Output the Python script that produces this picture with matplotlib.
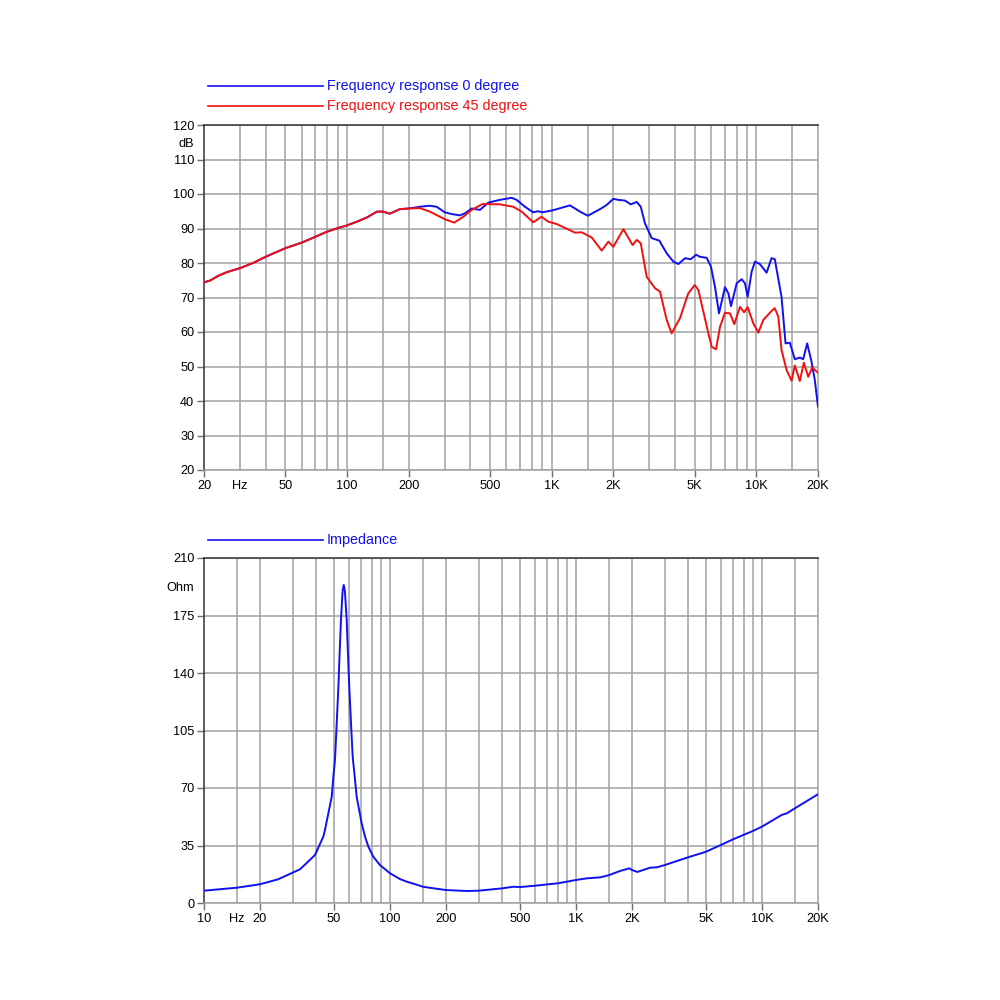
import matplotlib.pyplot as plt
import numpy as np

plt.rcParams['font.family'] = ['Liberation Sans', 'DejaVu Sans']

# Frequency response, 0 degree (Hz, dB)
freq_0deg = [20, 21.4, 23.5, 26, 30, 35, 40, 50, 60, 70, 80, 90, 100, 112, 125, 140, 150, 162, 181, 200,
             227, 254, 274, 300, 324, 356, 377, 406, 446, 490, 558, 637, 674, 740, 812, 859, 900, 1000,
             1228, 1374, 1500, 1721, 1854, 2000, 2113, 2280, 2432, 2603, 2723, 2855, 3080, 3353, 3646,
             3930, 4158, 4485, 4780, 5071, 5302, 5716, 6000, 6277, 6565, 7024, 7294, 7519, 8010, 8475,
             8796, 9064, 9483, 9842, 10400, 11220, 11860, 12300, 13270, 13880, 14570, 15410, 16300,
             16930, 17710, 18590, 19290, 20000]
spl_0deg = [74.4, 74.9, 76.3, 77.4, 78.5, 80.1, 81.8, 84.3, 85.9, 87.6, 89.1, 90.1, 90.9, 92.0, 93.2, 94.9,
            94.9, 94.3, 95.6, 95.8,
            96.3, 96.6, 96.3, 94.7, 94.2, 93.8, 94.4, 95.8, 95.4, 97.5, 98.3, 98.9, 98.3, 96.3, 94.7, 95.0,
            94.7, 95.2, 96.7, 94.9, 93.7, 95.6, 96.8, 98.6, 98.3, 98.1, 97.0, 97.7, 96.3, 91.5, 87.2, 86.5,
            82.8, 80.4, 79.7, 81.4, 81.1, 82.4, 81.8, 81.5, 78.9, 73.1, 65.4, 73.0, 71.2, 67.5, 74.1, 75.3,
            74.1, 70.2, 77.5, 80.4, 79.7, 77.2, 81.4, 81.1, 70.2, 56.7, 56.9, 52.1, 52.6, 52.1, 56.7, 51.4,
            46.1, 38.4]

# Frequency response, 45 degree (Hz, dB)
freq_45deg = [20, 21.4, 23.5, 26, 30, 35, 40, 50, 60, 70, 80, 90, 100, 112, 125, 140, 150, 162, 181, 200,
              227, 254, 300, 334, 370, 406, 460, 558, 649, 713, 812, 891, 961, 1057, 1300, 1400, 1568,
              1755, 1892, 2000, 2240, 2484, 2603, 2723, 2911, 3196, 3381, 3646, 3854, 4233, 4646, 5000,
              5203, 5508, 5825, 6050, 6350, 6640, 7024, 7432, 7800, 8318, 8700, 9064, 9660, 10220, 10810,
              11860, 12300, 12800, 13270, 14040, 14860, 15410, 16300, 17060, 17920, 18740, 20000]
spl_45deg = [74.4, 74.9, 76.3, 77.4, 78.5, 80.1, 81.8, 84.3, 85.9, 87.6, 89.1, 90.1, 90.9, 92.0, 93.2, 94.9,
             94.9, 94.3, 95.6, 95.8,
             95.9, 94.9, 92.7, 91.7, 93.4, 95.4, 97.1, 97.0, 96.3, 94.9, 91.8, 93.4, 92.0, 91.3, 88.8,
             88.9, 87.4, 83.6, 86.2, 84.7, 89.8, 85.2, 86.7, 85.7, 76.0, 72.7, 71.7, 63.5, 59.6, 64.0,
             71.2, 73.6, 72.2, 65.9, 59.6, 55.7, 55.0, 61.5, 65.6, 65.4, 62.3, 67.3, 65.7, 67.2, 62.5,
             59.8, 63.5, 66.1, 66.9, 64.4, 54.8, 49.0, 45.9, 50.3, 45.8, 51.1, 47.0, 49.7, 48.2]

# Impedance (Hz, Ohm)
freq_imp = [10, 15, 20, 25, 30, 32.8, 35, 39.5, 43.8, 44.7, 48.6, 49.6, 50.6, 51.7, 52.8, 53.6, 54.5,
            55.6, 56.4, 57.2, 58.5, 59.4, 60.4, 61.7, 63.0, 64.6, 66.2, 70.4, 73.4, 76.5, 81.3, 88.3,
            100, 113, 123, 145, 150, 175, 200, 258, 300, 400, 460, 500, 600, 800,
            1000, 1141, 1346, 1500, 1725, 1934, 2000, 2136, 2500, 2716, 3000, 4000, 5000, 6000, 7000,
            9000, 10000, 12760, 13600, 15000, 20000]
ohm_imp = [7.5, 9.3, 11.4, 14.4, 18.5, 20.5, 23.5, 29.2, 40.4, 44.4, 64.7, 76.9, 87.0, 109.4, 131.7,
           152.0, 172.3, 190.0, 193.6, 190.0, 172.3, 152.0, 131.7, 109.4, 89.0, 76.9, 64.7, 48.5, 40.4,
           34.3, 28.2, 23.1, 18.1, 14.6, 13.0, 10.5, 9.9, 8.8, 7.9, 7.3, 7.5, 8.9,
           9.9, 9.7, 10.5, 12.0, 14.0, 15.0, 15.6, 16.9, 19.5, 21.1, 20.1, 18.9, 21.5, 21.7, 23.1, 27.8,
           31.2, 35.3, 38.8, 44.0, 46.5, 53.6, 54.6, 57.6, 66.2]

top_xticks = [20, 50, 100, 200, 500, 1000, 2000, 5000, 10000, 20000]
top_xlabels = ['20', '50', '100', '200', '500', '1K', '2K', '5K', '10K', '20K']
bot_xticks = [10, 20, 50, 100, 200, 500, 1000, 2000, 5000, 10000, 20000]
bot_xlabels = ['10', '20', '50', '100', '200', '500', '1K', '2K', '5K', '10K', '20K']
top_yticks = list(range(20, 121, 10))
bot_yticks = list(range(0, 211, 35))

grid_mult = [1, 1.5, 2, 3, 4, 5, 6, 7, 8, 9]
GRID = '#a0a0a0'
BLUE = '#1010f0'
RED = '#f01010'


def style_axes(ax, fmin, fmax, yticks, ylab, ylab_pos, hz_pos, xticks, xlabels):
    ax.set_xscale('log')
    ax.set_xlim(fmin, fmax)
    ax.set_ylim(yticks[0], yticks[-1])
    # vertical grid
    for dec in [1, 10, 100, 1000, 10000]:
        for m in grid_mult:
            f = m * dec
            if fmin < f < fmax:
                ax.axvline(f, color=GRID, lw=1.1, zorder=1)
    ax.set_yticks(yticks)
    ax.set_yticklabels([str(v) for v in yticks])
    ax.set_yticks([ylab_pos], [ylab], minor=True)
    ax.grid(axis='y', which='major', color=GRID, lw=1.1, zorder=1)
    ax.set_xticks(xticks, xlabels)
    ax.set_xticks([hz_pos], ['Hz'], minor=True)
    ax.tick_params(which='major', length=5, width=1, color='#707070', labelsize=9.2, pad=2)
    ax.tick_params(which='minor', length=0, labelsize=9.2, pad=7)
    ax.tick_params(axis='x', which='minor', pad=7)
    for s in ['left', 'top']:
        ax.spines[s].set_color('#333333')
        ax.spines[s].set_linewidth(1.1)
    for s in ['right', 'bottom']:
        ax.spines[s].set_color(GRID)
        ax.spines[s].set_linewidth(1.1)


def legend_line(ax, y, color, label):
    ax.plot([0.0065, 0.194], [y, y], color=color, lw=1.2, transform=ax.transAxes, clip_on=False)
    ax.text(0.2, y, label, color=color, fontsize=10.4, va='center', ha='left', transform=ax.transAxes)


fig = plt.figure(figsize=(10, 10), dpi=100)
ax1 = fig.add_axes([0.204, 0.53, 0.614, 0.345])
ax2 = fig.add_axes([0.204, 0.097, 0.614, 0.345])

ax1.plot(freq_0deg, spl_0deg, color=BLUE, lw=1.4, zorder=3)
ax1.plot(freq_45deg, spl_45deg, color=RED, lw=1.4, zorder=4)
style_axes(ax1, 20, 20000, top_yticks, 'dB', 115, 30, top_xticks, top_xlabels)
legend_line(ax1, 1.113, BLUE, 'Frequency response 0 degree')
legend_line(ax1, 1.055, RED, 'Frequency response 45 degree')

ax2.plot(freq_imp, ohm_imp, color=BLUE, lw=1.4, zorder=3)
style_axes(ax2, 10, 20000, bot_yticks, 'Ohm', 192.5, 15, bot_xticks, bot_xlabels)
legend_line(ax2, 1.052, BLUE, 'Impedance')

fig.savefig('out.png', dpi=100, facecolor='white')
